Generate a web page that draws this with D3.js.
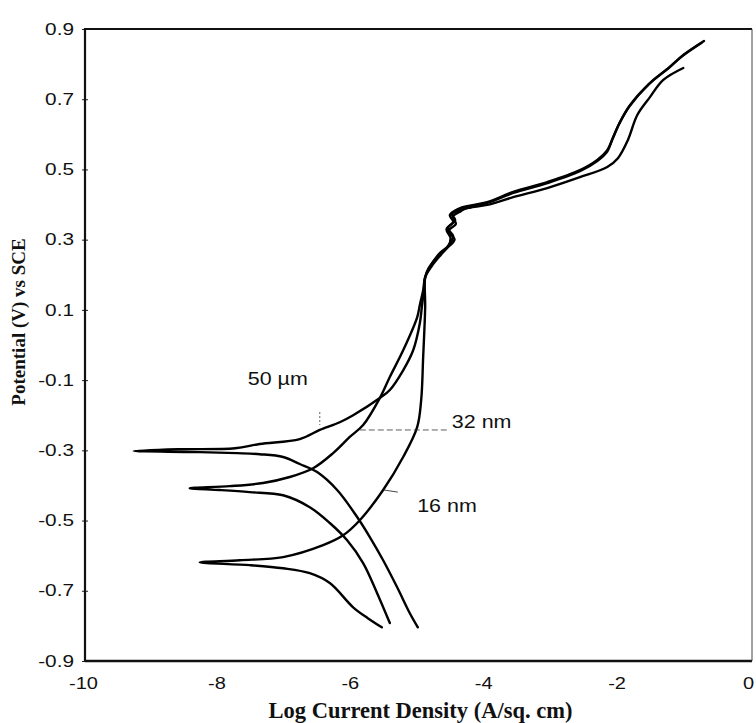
<!DOCTYPE html>
<html>
<head>
<meta charset="utf-8">
<script src="https://cdn.jsdelivr.net/npm/d3@7"></script>
<style>
  body { margin: 0; background: #fff; }
  .tick text { font-family: "Liberation Sans", Arial, sans-serif; font-size: 16px; fill: #111; }
  .axis-title { font-family: "Liberation Serif", "Times New Roman", serif; font-weight: bold; fill: #111; }
  .note { font-family: "Liberation Sans", Arial, sans-serif; font-size: 19px; fill: #111; }
</style>
</head>
<body>
<div id="chart"></div>
<script>
// axis ticks
const xTicks = [-10, -8, -6, -4, -2, 0];
const yTicks = [-0.9, -0.7, -0.5, -0.3, -0.1, 0.1, 0.3, 0.5, 0.7, 0.9];

// curves: [log i, E], from the cathodic end, through the tip, up the anodic side
const curve50um = [
  [-5.01, -0.804], [-5.13, -0.764], [-5.32, -0.690], [-5.53, -0.613], [-5.73, -0.547],
  [-5.92, -0.490], [-6.22, -0.413], [-6.52, -0.362], [-6.78, -0.339], [-7.03, -0.319],
  [-7.38, -0.311], [-7.72, -0.308], [-8.28, -0.305], [-9.27, -0.302],
  [-8.58, -0.297], [-7.75, -0.294], [-7.38, -0.282], [-6.78, -0.268], [-6.48, -0.242],
  [-6.18, -0.220], [-5.98, -0.200], [-5.58, -0.151], [-5.43, -0.128], [-5.23, -0.072],
  [-5.08, -0.015], [-4.98, 0.062], [-4.95, 0.108], [-4.92, 0.156], [-4.90, 0.193],
  [-4.83, 0.222], [-4.68, 0.262], [-4.57, 0.279], [-4.48, 0.310], [-4.56, 0.333],
  [-4.45, 0.356], [-4.50, 0.373], [-4.38, 0.384], [-4.23, 0.391],
  [-3.97, 0.399], [-3.58, 0.421], [-3.07, 0.447], [-2.58, 0.478], [-2.17, 0.507],
  [-2.01, 0.532], [-1.86, 0.584], [-1.72, 0.655], [-1.53, 0.706], [-1.33, 0.755], [-1.03, 0.789]
];

const curve32nm = [
  [-5.43, -0.792], [-5.62, -0.707], [-5.83, -0.621], [-6.07, -0.556], [-6.33, -0.507],
  [-6.63, -0.462], [-7.03, -0.428], [-7.53, -0.419], [-7.98, -0.413], [-8.43, -0.408],
  [-7.83, -0.402], [-7.33, -0.393], [-6.93, -0.376], [-6.58, -0.351], [-6.28, -0.308],
  [-6.03, -0.262], [-5.83, -0.228], [-5.58, -0.151], [-5.43, -0.091], [-5.23, -0.015],
  [-5.02, 0.079], [-4.98, 0.114], [-4.93, 0.156], [-4.90, 0.193],
  [-4.80, 0.225], [-4.66, 0.258], [-4.55, 0.282], [-4.52, 0.305], [-4.58, 0.330],
  [-4.48, 0.350], [-4.53, 0.370], [-4.40, 0.388], [-4.23, 0.397],
  [-3.97, 0.407], [-3.58, 0.436], [-3.07, 0.464], [-2.58, 0.498], [-2.32, 0.527],
  [-2.17, 0.555], [-2.08, 0.592], [-1.98, 0.635], [-1.83, 0.683], [-1.53, 0.746],
  [-1.23, 0.792], [-1.03, 0.826], [-0.72, 0.866]
];

const curve16nm = [
  [-5.55, -0.804], [-5.76, -0.778], [-5.98, -0.747], [-6.33, -0.678], [-6.63, -0.650],
  [-7.03, -0.636], [-7.53, -0.627], [-8.28, -0.619],
  [-7.68, -0.613], [-7.03, -0.604], [-6.43, -0.570], [-6.13, -0.542], [-5.88, -0.499],
  [-5.53, -0.413], [-5.23, -0.319], [-5.02, -0.234], [-4.96, -0.157], [-4.93, -0.034],
  [-4.90, 0.108], [-4.90, 0.193],
  [-4.85, 0.218], [-4.70, 0.255], [-4.60, 0.272], [-4.46, 0.300], [-4.55, 0.325],
  [-4.44, 0.345], [-4.49, 0.365], [-4.36, 0.382], [-4.23, 0.395],
  [-3.97, 0.405], [-3.58, 0.433], [-3.07, 0.461], [-2.58, 0.495], [-2.32, 0.524],
  [-2.17, 0.551], [-2.09, 0.588], [-1.99, 0.630], [-1.84, 0.679], [-1.55, 0.742],
  [-1.25, 0.789], [-1.05, 0.822], [-0.76, 0.860]
];

const labels = [
  { text: "50 \u00b5m", x: -7.56, y: -0.114 },
  { text: "32 nm", x: -4.50, y: -0.237 },
  { text: "16 nm", x: -5.02, y: -0.476 }
];

const width = 756, height = 723;
const plotLeft = 85, plotRight = 752, plotTop = 29, plotBottom = 661;

const svg = d3.select("#chart").append("svg")
  .attr("width", width)
  .attr("height", height);

const x = d3.scaleLinear().domain([-10, 0]).range([plotLeft, plotRight]);
const y = d3.scaleLinear().domain([-0.9, 0.9]).range([plotBottom, plotTop]);

// y axis with small cross ticks; the scanned type is a bit wide, so stretch it
const yAxis = svg.append("g")
  .attr("transform", `translate(${plotLeft},0)`)
  .call(d3.axisLeft(y).tickValues(yTicks).tickSize(3).tickFormat(d => d.toFixed(1)));
yAxis.select(".domain").remove();
yAxis.selectAll(".tick line").attr("x2", 3).attr("x1", -3).attr("stroke", "#222");
yAxis.selectAll(".tick text").attr("x", 0).attr("transform", "translate(-11,0) scale(1.3,1)");

const xAxis = svg.append("g")
  .attr("transform", `translate(0,${plotBottom})`)
  .call(d3.axisBottom(x).tickValues(xTicks).tickSize(0).tickFormat(d => String(d)));
xAxis.select(".domain").remove();
xAxis.selectAll(".tick text").attr("y", 0)
  .attr("transform", d => `translate(${d === 0 ? -4 : -2},17) scale(1.25,1)`);

// frame
svg.append("line").attr("x1", plotLeft).attr("x2", plotLeft).attr("y1", plotTop - 1).attr("y2", plotBottom + 1)
  .attr("stroke", "#111").attr("stroke-width", 2.2);
svg.append("line").attr("x1", plotLeft).attr("x2", plotRight).attr("y1", plotBottom).attr("y2", plotBottom)
  .attr("stroke", "#111").attr("stroke-width", 2.4);
svg.append("line").attr("x1", plotLeft).attr("x2", plotRight).attr("y1", plotTop).attr("y2", plotTop)
  .attr("stroke", "#111").attr("stroke-width", 2.2);
svg.append("line").attr("x1", plotRight).attr("x2", plotRight).attr("y1", plotTop).attr("y2", plotBottom)
  .attr("stroke", "#444").attr("stroke-width", 1);

// curves
const line = d3.line()
  .x(d => x(d[0]))
  .y(d => y(d[1]))
  .curve(d3.curveCatmullRom.alpha(0.5));

[curve50um, curve32nm, curve16nm].forEach(c => {
  svg.append("path")
    .datum(c)
    .attr("fill", "none")
    .attr("stroke", "#000")
    .attr("stroke-width", 2.4)
    .attr("stroke-linejoin", "round")
    .attr("stroke-linecap", "round")
    .attr("d", line);
});

// leader marks
svg.append("line")
  .attr("x1", x(-5.88)).attr("x2", x(-4.53))
  .attr("y1", y(-0.242)).attr("y2", y(-0.242))
  .attr("stroke", "#333").attr("stroke-width", 0.8).attr("stroke-dasharray", "6,3");
svg.append("line")
  .attr("x1", x(-6.48)).attr("x2", x(-6.48))
  .attr("y1", y(-0.191)).attr("y2", y(-0.228))
  .attr("stroke", "#333").attr("stroke-width", 0.8).attr("stroke-dasharray", "2,2");
svg.append("line")
  .attr("x1", x(-5.52)).attr("x2", x(-5.31))
  .attr("y1", y(-0.413)).attr("y2", y(-0.419))
  .attr("stroke", "#333").attr("stroke-width", 0.9);

svg.selectAll(".note")
  .data(labels)
  .enter().append("text")
  .attr("class", "note")
  .attr("transform", d => `translate(${x(d.x)},${y(d.y)}) scale(1.13,1)`)
  .text(d => d.text);

// axis titles
svg.append("text")
  .attr("class", "axis-title")
  .attr("x", (plotLeft + plotRight) / 2 + 2)
  .attr("y", 718)
  .attr("text-anchor", "middle")
  .style("font-size", "22.5px")
  .text("Log Current Density (A/sq. cm)");

svg.append("text")
  .attr("class", "axis-title")
  .attr("transform", "translate(25,322) rotate(-90)")
  .attr("text-anchor", "middle")
  .style("font-size", "19px")
  .text("Potential (V) vs SCE");
</script>
</body>
</html>
